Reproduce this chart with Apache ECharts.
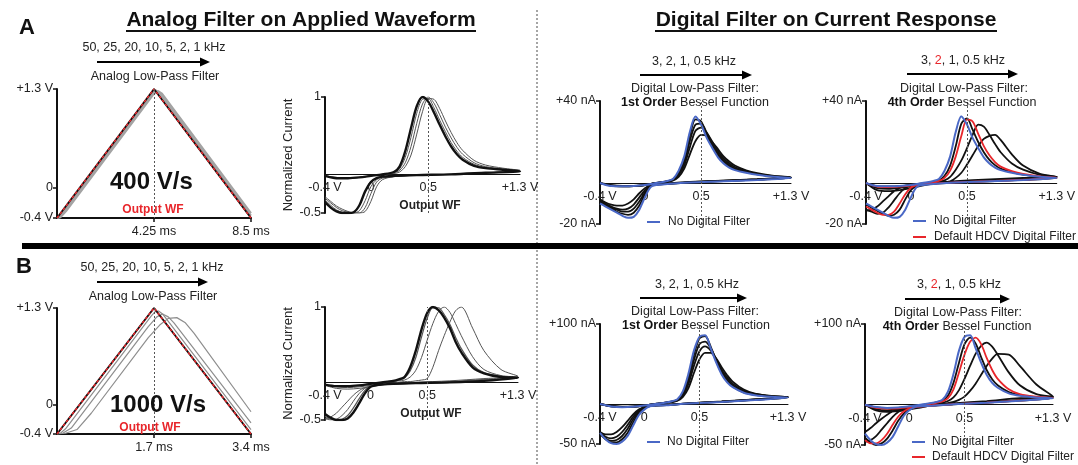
<!DOCTYPE html>
<html><head><meta charset="utf-8">
<script src="https://cdn.jsdelivr.net/npm/echarts@6/dist/echarts.min.js"></script>
<style>html,body{margin:0;padding:0;background:#fff}#c{width:1078px;height:465px}</style>
</head><body><div id="c"></div><script>
// ================= DATA =================
// Applied waveform (time in ms, potential in V)
const a1_out  = [[0,-0.4],[4.25,1.3],[8.5,-0.4]];
const a1_f2k  = [[0,-0.4],[0.1,-0.39],[0.3,-0.315],[4.2,1.25],[4.33,1.28],[4.45,1.265],[8.5,-0.368]];
const a1_f1k  = [[0,-0.4],[0.15,-0.39],[0.4,-0.31],[4.2,1.22],[4.35,1.26],[4.45,1.27],[4.6,1.24],[8.5,-0.336]];
const b1_out  = [[0,-0.4],[1.7,1.3],[3.4,-0.4]];
const b1_f5k  = [[0,-0.4],[0.06,-0.39],[0.15,-0.33],[1.65,1.19],[1.72,1.25],[1.78,1.26],[1.85,1.22],[3.4,-0.34]];
const b1_f2k  = [[0,-0.4],[0.1,-0.39],[0.25,-0.32],[1.6,1.05],[1.75,1.18],[1.85,1.22],[1.95,1.18],[2.05,1.1],[3.4,-0.25]];
const b1_f1k  = [[0,-0.4],[0.15,-0.39],[0.35,-0.34],[0.6,-0.12],[1.6,0.9],[1.8,1.07],[1.95,1.16],[2.1,1.17],[2.25,1.1],[2.4,0.96],[3.4,-0.1]];

// CV potential grids (V): forward sweep, then reverse sweep
const E_fwd = [-0.4,-0.3,-0.2,-0.1,0,0.1,0.2,0.25,0.3,0.35,0.4,0.45,0.5,0.55,0.6,0.65,0.7,0.75,0.8,0.9,1.0,1.15,1.3];
const E_rev = [1.3,1.0,0.7,0.4,0.2,0.1,0.05,0,-0.05,-0.1,-0.15,-0.2,-0.25,-0.3,-0.35,-0.4];

// A2: normalized current, 400 V/s
const a2_thick_f = [-0.02,-0.05,-0.05,-0.04,-0.02,0.0,0.03,0.1,0.3,0.6,0.88,1.0,0.94,0.8,0.64,0.49,0.36,0.26,0.19,0.11,0.08,0.06,0.04];
const a2_thick_r = [0.04,0.02,0.0,-0.01,-0.02,-0.03,-0.05,-0.1,-0.22,-0.4,-0.49,-0.5,-0.5,-0.48,-0.43,-0.36];
const a2_g1_f = [-0.02,-0.04,-0.05,-0.04,-0.02,0.0,0.02,0.07,0.22,0.48,0.79,0.97,0.98,0.86,0.7,0.55,0.41,0.3,0.22,0.13,0.09,0.06,0.04];
const a2_g1_r = [0.04,0.02,0.0,-0.01,-0.02,-0.04,-0.07,-0.16,-0.34,-0.47,-0.5,-0.5,-0.49,-0.46,-0.4,-0.33];
const a2_g2_f = [-0.02,-0.04,-0.05,-0.04,-0.02,0.0,0.02,0.05,0.15,0.36,0.66,0.91,1.0,0.92,0.77,0.61,0.47,0.35,0.26,0.15,0.1,0.07,0.05];
const a2_g2_r = [0.05,0.02,0.0,-0.01,-0.03,-0.05,-0.1,-0.25,-0.43,-0.5,-0.5,-0.49,-0.47,-0.43,-0.37,-0.31];
const a2_g3_f = [-0.02,-0.04,-0.05,-0.04,-0.02,0.0,0.01,0.03,0.1,0.25,0.52,0.81,0.98,0.97,0.85,0.69,0.54,0.41,0.31,0.18,0.12,0.08,0.05];
const a2_g3_r = [0.05,0.02,0.0,-0.01,-0.03,-0.07,-0.16,-0.35,-0.48,-0.5,-0.5,-0.48,-0.45,-0.41,-0.35,-0.29];

// B2: normalized current, 1000 V/s
const b2_thick_f = [-0.03,-0.05,-0.05,-0.04,-0.02,0,0.02,0.04,0.07,0.2,0.42,0.7,0.92,1.0,0.96,0.86,0.72,0.54,0.4,0.2,0.12,0.07,0.06];
const b2_thick_r = [0.06,0.02,0,-0.01,-0.02,-0.03,-0.04,-0.06,-0.15,-0.28,-0.4,-0.48,-0.5,-0.5,-0.47,-0.42];
const b2_g1_f = [-0.03,-0.05,-0.05,-0.04,-0.02,0,0.02,0.03,0.06,0.15,0.33,0.6,0.85,0.99,0.99,0.9,0.77,0.6,0.45,0.23,0.13,0.08,0.06];
const b2_g1_r = [0.06,0.03,0,-0.01,-0.02,-0.03,-0.04,-0.05,-0.11,-0.22,-0.34,-0.44,-0.49,-0.5,-0.49,-0.45];
const b2_g2_f = [-0.03,-0.06,-0.07,-0.06,-0.04,-0.01,0.01,0.02,0.03,0.07,0.16,0.33,0.56,0.78,0.94,1.0,0.93,0.78,0.62,0.34,0.17,0.09,0.07];
const b2_g2_r = [0.07,0.04,0.01,-0.01,-0.02,-0.03,-0.04,-0.05,-0.08,-0.15,-0.25,-0.36,-0.44,-0.49,-0.5,-0.48];
const b2_g3_f = [-0.04,-0.08,-0.09,-0.08,-0.06,-0.03,-0.01,0,0.01,0.01,0.02,0.03,0.05,0.2,0.42,0.62,0.8,0.95,1.0,0.72,0.42,0.17,0.08];
const b2_g3_r = [0.08,0.05,0.02,0,-0.02,-0.03,-0.04,-0.05,-0.07,-0.11,-0.17,-0.25,-0.33,-0.41,-0.46,-0.49];

// A3/A4: current (nA), 400 V/s
const a_blue_f = [0,-1.5,-1.6,-1.5,-1,0,1,2,6,13,25,32.5,28.5,22,17,12.5,9.5,7.5,6.3,5,4,3,2.5];
const a_blue_r = [2.5,1.5,0.8,0.2,-0.5,-1,-2,-7,-13,-16.5,-17,-16,-14.5,-13,-11.5,-10];
const a3_k3_f = [0,-1.4,-1.6,-1.5,-1,0,0.9,1.8,5,11.5,23,31,30,23.5,18,13.5,10.3,8.2,6.8,5.3,4.2,3.1,2.6];
const a3_k3_r = [2.6,1.6,0.9,0.2,-0.4,-0.9,-1.7,-5.5,-11,-14.5,-15.5,-15,-14,-12.5,-11,-9.5];
const a3_k2_f = [0,-1.3,-1.6,-1.5,-1,0,0.8,1.6,4.5,10,20.5,28.5,29,24.5,19,14.5,11,8.8,7.2,5.5,4.3,3.2,2.6];
const a3_k2_r = [2.6,1.7,1.0,0.3,-0.4,-0.8,-1.5,-4.5,-9,-12.5,-14,-14,-13,-12,-10.5,-9];
const a3_k1_f = [0,-1.2,-1.5,-1.5,-1,0,0.7,1.4,3.8,8.5,17.5,25.5,27,24.5,20,15.5,12,9.5,7.8,5.8,4.5,3.3,2.7];
const a3_k1_r = [2.7,1.8,1.1,0.4,-0.3,-0.7,-1.3,-3.5,-7,-10.5,-12.5,-13,-12.5,-11.5,-10,-8.5];
const a3_k05_f = [0,-1,-1.4,-1.4,-1,0,0.6,1.2,3,7,14,20.5,23.5,23,20,16.5,13,10.5,8.5,6.2,4.8,3.5,2.8];
const a3_k05_r = [2.8,1.9,1.2,0.5,-0.2,-0.6,-1.0,-2.5,-5,-8,-10,-11,-11,-10.5,-9.5,-8];
const a4_k3_f = [0,-1.5,-1.7,-1.5,-1.2,-0.3,0.6,1.3,3.5,8.5,18,29,31.5,26,20,15,11.3,8.7,7,5.3,4.1,3,2.5];
const a4_k3_r = [2.5,1.5,0.8,0.2,-0.4,-0.8,-1.4,-3.5,-8,-13,-15.5,-16,-15,-13.5,-12,-10.5];
const a4_red_f = [0,-1.8,-2,-1.8,-1.3,-0.4,0.4,1,2.5,6,13,23,31,30,24,18,13.5,10.2,8,5.8,4.4,3.2,2.6];
const a4_red_r = [2.6,1.6,0.9,0.3,-0.3,-0.7,-1.1,-2.3,-5.5,-10,-14,-15.5,-15.5,-14.5,-13,-11.5];
const a4_k1_f = [0,-2.5,-2.8,-2.4,-1.7,-0.7,0.2,0.6,1.3,3,6.5,11,17,23.5,28.5,27.5,23.5,19,15,9.5,6.5,4,3];
const a4_k1_r = [3,2,1.2,0.5,-0.1,-0.5,-0.8,-1.3,-2.5,-5,-8.5,-12,-14.5,-15,-14,-13];
const a4_k05_f = [0,-3.5,-4,-3.5,-2.5,-1.3,-0.3,0.1,0.4,0.8,2.5,5,9,13.5,18,21.5,23,23.5,21,14,8.5,4.5,3];
const a4_k05_r = [3,2.5,1.8,0.9,0.1,-0.3,-0.5,-0.8,-1.3,-2.3,-4,-6.5,-9,-11.5,-13,-13.5];

// B3/B4: current (nA), 1000 V/s
const b_blue_f = [0,-3,-4,-3.5,-2,0,2,3.5,6,16,38,67,84,86,70,52,37,27,21,14,11,9,8];
const b_blue_r = [8,5,2.5,0.5,-1.5,-2,-3,-7,-14,-27,-40,-47,-50,-49,-44,-36];
const b3_k3_f = [0,-3,-4,-3.5,-2,0,2,3.3,5.5,14,34,62,82,85,72,54,39,28.5,22,14.5,11.5,9.2,8.2];
const b3_k3_r = [8.2,5.2,2.6,0.6,-1.4,-1.9,-2.8,-6,-12,-23,-36,-44,-48,-48,-44,-37];
const b3_k2_f = [0,-2.8,-3.8,-3.4,-2,0,1.8,3,5,12,29,55,75,78,70,56,41,30.5,23.5,15.5,12,9.5,8.4];
const b3_k2_r = [8.4,5.4,2.8,0.7,-1.3,-1.8,-2.6,-5,-10,-19,-31,-40,-45,-46,-43,-37];
const b3_k1_f = [0,-2.6,-3.6,-3.3,-2,0,1.7,2.8,4.5,10.5,25,48,66,72,67,56,43,33,25.5,16.5,12.5,9.8,8.6];
const b3_k1_r = [8.6,5.6,3,0.8,-1.2,-1.7,-2.4,-4.3,-8.5,-16,-26,-35,-41,-43,-41,-36];
const b3_k05_f = [0,-2.4,-3.4,-3.2,-2,0,1.5,2.5,4,9,20,39,56,64,64,57,46,36,28,18,13,10,8.8];
const b3_k05_r = [8.8,5.8,3.2,0.9,-1.1,-1.6,-2.2,-3.8,-7,-13,-21,-29,-35,-38,-38,-35];
const b4_k3_f = [0,-3.5,-4.5,-4,-2.5,-0.5,1.5,3,5,11,27,52,75,83,76,59,43,31.5,24,15.5,11.8,9.3,8.2];
const b4_k3_r = [8.2,5,2.5,0.5,-1.5,-2.5,-3.5,-6,-11,-20,-32,-42,-48,-50,-47,-41];
const b4_red_f = [0,-4,-5,-4.5,-3,-1,1,2.4,4,8,19,40,62,78,83,75,58,43,32,19,13,9.8,8.5];
const b4_red_r = [8.5,5.2,2.6,0.6,-1.4,-2.3,-3.2,-5,-8.5,-15,-25,-36,-44,-48,-48,-44];
const b4_k1_f = [0,-5.5,-7,-6,-4,-1.8,0.2,1.3,2.5,4.5,9,18,32,48,63,73,77,72,62,40,24,13,9.5];
const b4_k1_r = [9.5,6,3,0.8,-1.2,-2,-2.7,-3.8,-5.5,-9,-15,-23,-31,-39,-44,-46];
const b4_k05_f = [0,-7,-9,-8,-6,-3.5,-1,0,1,2,3.5,6,10,17,26,37,48,57,63,62,48,25,10];
const b4_k05_r = [10,8,4.5,1.5,-0.8,-1.6,-2.2,-3,-4,-5.8,-8.5,-12.5,-17.5,-23,-29,-34];

// Tick values and axis ranges
const wfTicksA = [4.25, 8.5];
const wfTicksB = [1.7, 3.4];
const voltTicks = [-0.4, 0, 1.3];
const cvTicks = [-0.4, 0, 0.5, 1.3];
const normTicks = [-0.5, 1];
const nATicksA = [-20, 40];
const nATicksB = [-50, 100];
const refE = 0.5;

// ================= CHART =================
const FONT = '"Liberation Sans", Arial, Helvetica, sans-serif';
const BLK = '#111', BLUE = '#4a68c6', RED = '#e8262b', GRAY = '#a3a3a3', DGRAY = '#555';

function cv(f, r) {
  const out = [];
  E_fwd.forEach((e, i) => out.push([e, f[i]]));
  E_rev.forEach((e, i) => out.push([e, r[i]]));
  return out;
}
function fmtV(v) { if (v === 1.3) return '+1.3 V'; if (v === -0.4) return '-0.4 V'; return String(v); }
function fmtNA(v) { return (v > 0 ? '+' : '') + v + ' nA'; }

const grids = [
  {left: 57,  top: 89,  width: 194, height: 129},
  {left: 325, top: 97,  width: 195, height: 116},
  {left: 600, top: 101, width: 191, height: 123},
  {left: 866, top: 101, width: 191, height: 123},
  {left: 57,  top: 308, width: 194, height: 126},
  {left: 325, top: 307, width: 193, height: 113},
  {left: 600, top: 324, width: 188, height: 120},
  {left: 865, top: 324, width: 188, height: 121}
];
const yRanges = [[-0.4, 1.3], [-0.5, 1], [-20, 40], [-20, 40], [-0.4, 1.3], [-0.5, 1], [-50, 100], [-50, 100]];

const lblStyle = {color: '#222', fontFamily: FONT, fontSize: 12.5};

function timeX(g, max, ticks) {
  return {type: 'value', gridIndex: g, min: 0, max: max, splitLine: {show: false},
    axisLine: {onZero: false, lineStyle: {color: BLK, width: 2}},
    axisTick: {customValues: ticks, length: 4, lineStyle: {color: BLK, width: 1.5}},
    axisLabel: Object.assign({customValues: ticks, margin: 7, formatter: v => v + ' ms'}, lblStyle)};
}
// CV x axis crosses the y axis at zero current
function cvX(g) {
  const r = yRanges[g];
  const off = -grids[g].height * (0 - r[0]) / (r[1] - r[0]);
  return {type: 'value', gridIndex: g, min: -0.4, max: 1.3, splitLine: {show: false}, offset: off,
    axisLine: {onZero: false, lineStyle: {color: BLK, width: 1}},
    axisTick: {show: false},
    axisLabel: Object.assign({customValues: cvTicks, margin: 7, formatter: fmtV}, lblStyle)};
}
function yAx(g, ticks, fmt, extra) {
  return Object.assign({type: 'value', gridIndex: g, min: yRanges[g][0], max: yRanges[g][1], splitLine: {show: false},
    axisLine: {onZero: false, lineStyle: {color: BLK, width: 2}},
    axisTick: {customValues: ticks, length: 4, lineStyle: {color: BLK, width: 1.5}},
    axisLabel: Object.assign({customValues: ticks, margin: 4, formatter: fmt}, lblStyle)}, extra || {});
}
const normName = {name: 'Normalized Current', nameLocation: 'middle', nameGap: 30,
  nameTextStyle: {color: '#222', fontFamily: FONT, fontSize: 13}};

const xAxes = [timeX(0, 8.5, wfTicksA), cvX(1), cvX(2), cvX(3), timeX(4, 3.4, wfTicksB), cvX(5), cvX(6), cvX(7)];
const yAxes = [
  yAx(0, voltTicks, fmtV),
  yAx(1, normTicks, v => String(v), normName),
  yAx(2, nATicksA, fmtNA),
  yAx(3, nATicksA, fmtNA),
  yAx(4, voltTicks, fmtV),
  yAx(5, normTicks, v => String(v), normName),
  yAx(6, nATicksB, fmtNA),
  yAx(7, nATicksB, fmtNA)
];

const series = [];
function add(p, data, color, width, opts) {
  series.push(Object.assign({type: 'line', xAxisIndex: p, yAxisIndex: p, data: data,
    showSymbol: false, symbol: 'none', smooth: 0.3, silent: true, animation: false,
    lineStyle: {color: color, width: width}, itemStyle: {color: color}}, opts || {}));
}
const dotted = {color: '#555', width: 1, type: [2, 2]};
function refLine(data) {
  return {markLine: {silent: true, symbol: 'none', animation: false, label: {show: false},
    lineStyle: dotted, data: data}};
}

// A1 / B1 waveforms
add(0, a1_f1k, GRAY, 2, {smooth: false});
add(0, a1_f2k, GRAY, 2, {smooth: false});
add(0, a1_out, BLK, 2, Object.assign({smooth: false}, refLine([[{coord: [a1_out[1][0], a1_out[1][1]]}, {coord: [a1_out[1][0], a1_out[0][1]]}]])));
add(0, a1_out, RED, 1.5, {smooth: false, lineStyle: {color: RED, width: 1.5, type: [3, 2]}});
add(4, b1_f1k, '#8e8e8e', 1.2, {smooth: false});
add(4, b1_f2k, '#8e8e8e', 1.2, {smooth: false});
add(4, b1_f5k, '#8e8e8e', 1.2, {smooth: false});
add(4, b1_out, BLK, 2, Object.assign({smooth: false}, refLine([[{coord: [b1_out[1][0], b1_out[1][1]]}, {coord: [b1_out[1][0], b1_out[0][1]]}]])));
add(4, b1_out, RED, 1.5, {smooth: false, lineStyle: {color: RED, width: 1.5, type: [3, 2]}});

// A2 / B2
add(1, cv(a2_g3_f, a2_g3_r), DGRAY, 1, refLine([{xAxis: refE}]));
add(1, cv(a2_g2_f, a2_g2_r), DGRAY, 1);
add(1, cv(a2_g1_f, a2_g1_r), DGRAY, 1);
add(1, cv(a2_thick_f, a2_thick_r), BLK, 2.4);
add(5, cv(b2_g3_f, b2_g3_r), DGRAY, 1, refLine([{xAxis: refE}]));
add(5, cv(b2_g2_f, b2_g2_r), DGRAY, 1);
add(5, cv(b2_g1_f, b2_g1_r), DGRAY, 1.2);
add(5, cv(b2_thick_f, b2_thick_r), BLK, 2.4);

// A3
add(2, cv(a3_k05_f, a3_k05_r), BLK, 1.8, refLine([{xAxis: refE}]));
add(2, cv(a3_k1_f, a3_k1_r), BLK, 1.8);
add(2, cv(a3_k2_f, a3_k2_r), BLK, 1.8);
add(2, cv(a3_k3_f, a3_k3_r), BLK, 1.8);
add(2, cv(a_blue_f, a_blue_r), BLUE, 2);
// A4
add(3, cv(a4_k05_f, a4_k05_r), BLK, 1.8, refLine([{xAxis: refE}]));
add(3, cv(a4_k1_f, a4_k1_r), BLK, 1.8);
add(3, cv(a4_k3_f, a4_k3_r), BLK, 1.8);
add(3, cv(a4_red_f, a4_red_r), RED, 1.8);
add(3, cv(a_blue_f, a_blue_r), BLUE, 2);
// B3
add(6, cv(b3_k05_f, b3_k05_r), BLK, 1.8, refLine([{xAxis: refE}]));
add(6, cv(b3_k1_f, b3_k1_r), BLK, 1.8);
add(6, cv(b3_k2_f, b3_k2_r), BLK, 1.8);
add(6, cv(b3_k3_f, b3_k3_r), BLK, 1.8);
add(6, cv(b_blue_f, b_blue_r), BLUE, 2);
// B4
add(7, cv(b4_k05_f, b4_k05_r), BLK, 1.8, refLine([{xAxis: refE}]));
add(7, cv(b4_k1_f, b4_k1_r), BLK, 1.8);
add(7, cv(b4_k3_f, b4_k3_r), BLK, 1.8);
add(7, cv(b4_red_f, b4_red_r), RED, 1.8);
add(7, cv(b_blue_f, b_blue_r), BLUE, 2);

// ---------- graphic decorations ----------
const G = [];
function txt(x, y, text, size, opts) {
  G.push({type: 'text', x: x, y: y, silent: true, z: 50,
    style: Object.assign({text: text, fontFamily: FONT, fontSize: size, fill: '#222',
      align: 'center', verticalAlign: 'middle'}, opts || {})});
}
function arrow(x1, x2, y) {
  G.push({type: 'line', silent: true, z: 50, shape: {x1: x1, y1: y, x2: x2 - 8, y2: y}, style: {stroke: '#000', lineWidth: 2.2}});
  G.push({type: 'polygon', silent: true, z: 50, shape: {points: [[x2 - 10, y - 4.5], [x2, y], [x2 - 10, y + 4.5]]}, style: {fill: '#000'}});
}
function legLine(x, y, color) {
  G.push({type: 'line', silent: true, z: 50, shape: {x1: x, y1: y, x2: x + 13, y2: y}, style: {stroke: color, lineWidth: 2}});
}
const rich = {
  b: {fontWeight: 'bold', fontSize: 12.5, fontFamily: FONT, fill: '#111'},
  r: {fontSize: 12.5, fontFamily: FONT, fill: RED}
};

// titles
txt(301, 20, 'Analog Filter on Applied Waveform', 21, {fontWeight: 'bold', fill: '#111'});
G.push({type: 'rect', silent: true, shape: {x: 126, y: 30, width: 350, height: 2}, style: {fill: '#111'}});
txt(826, 20, 'Digital Filter on Current Response', 21, {fontWeight: 'bold', fill: '#111'});
G.push({type: 'rect', silent: true, shape: {x: 655, y: 30, width: 342, height: 2}, style: {fill: '#111'}});
txt(27, 28, 'A', 22, {fontWeight: 'bold', fill: '#111'});
txt(24, 267, 'B', 22, {fontWeight: 'bold', fill: '#111'});

// divider and bar
G.push({type: 'line', silent: true, shape: {x1: 537, y1: 10, x2: 537, y2: 465}, style: {stroke: '#888', lineWidth: 1.5, lineDash: [2, 2]}});
G.push({type: 'rect', silent: true, z: 60, shape: {x: 22, y: 243, width: 1056, height: 6}, style: {fill: '#000'}});

// Row A annotations
txt(154, 48, '50, 25, 20, 10, 5, 2, 1 kHz', 12.5);
arrow(97, 210, 62);
txt(155, 77, 'Analog Low-Pass Filter', 12.5);
txt(110, 182, '400 V/s', 24, {fontWeight: 'bold', fill: '#111', align: 'left'});
txt(153, 210, 'Output WF', 12, {fontWeight: 'bold', fill: RED});
txt(430, 206, 'Output WF', 12, {fontWeight: 'bold', fill: '#222'});

txt(694, 62, '3, 2, 1, 0.5 kHz', 12.5);
arrow(640, 752, 75);
txt(695, 89, 'Digital Low-Pass Filter:', 12.5);
txt(695, 103, '{b|1st Order} Bessel Function', 12.5, {rich: rich});
legLine(647, 222, BLUE);
txt(668, 222, 'No Digital Filter', 12, {align: 'left'});

txt(963, 61, '3, {r|2}, 1, 0.5 kHz', 12.5, {rich: rich});
arrow(907, 1018, 74);
txt(964, 89, 'Digital Low-Pass Filter:', 12.5);
txt(962, 103, '{b|4th Order} Bessel Function', 12.5, {rich: rich});
legLine(913, 221, BLUE);
txt(934, 221, 'No Digital Filter', 12, {align: 'left'});
legLine(913, 237, RED);
txt(934, 237, 'Default HDCV Digital Filter', 12, {align: 'left'});

// Row B annotations
txt(152, 268, '50, 25, 20, 10, 5, 2, 1 kHz', 12.5);
arrow(97, 208, 282);
txt(153, 297, 'Analog Low-Pass Filter', 12.5);
txt(110, 405, '1000 V/s', 24, {fontWeight: 'bold', fill: '#111', align: 'left'});
txt(150, 428, 'Output WF', 12, {fontWeight: 'bold', fill: RED});
txt(431, 414, 'Output WF', 12, {fontWeight: 'bold', fill: '#222'});

txt(697, 285, '3, 2, 1, 0.5 kHz', 12.5);
arrow(640, 747, 298);
txt(695, 312, 'Digital Low-Pass Filter:', 12.5);
txt(696, 326, '{b|1st Order} Bessel Function', 12.5, {rich: rich});
legLine(647, 442, BLUE);
txt(667, 442, 'No Digital Filter', 12, {align: 'left'});

txt(959, 285, '3, {r|2}, 1, 0.5 kHz', 12.5, {rich: rich});
arrow(905, 1010, 299);
txt(958, 313, 'Digital Low-Pass Filter:', 12.5);
txt(957, 327, '{b|4th Order} Bessel Function', 12.5, {rich: rich});
legLine(912, 442, BLUE);
txt(932, 442, 'No Digital Filter', 12, {align: 'left'});
legLine(912, 457, RED);
txt(932, 457, 'Default HDCV Digital Filter', 12, {align: 'left'});

const chart = echarts.init(document.getElementById('c'), null, {renderer: 'canvas'});
chart.setOption({
  animation: false,
  backgroundColor: '#fff',
  grid: grids,
  xAxis: xAxes,
  yAxis: yAxes,
  series: series,
  graphic: G
});
</script></body></html>
